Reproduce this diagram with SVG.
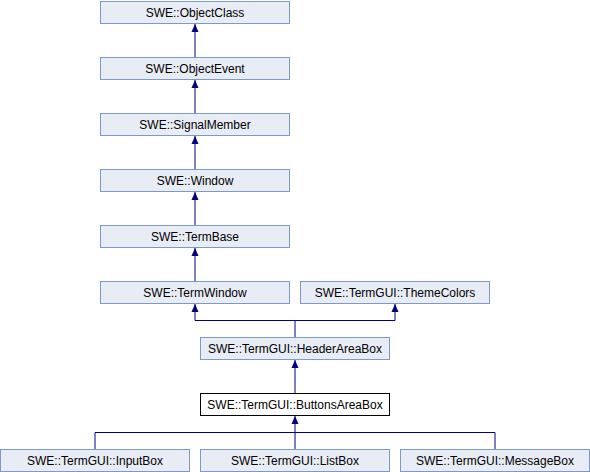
<svg xmlns="http://www.w3.org/2000/svg" width="590" height="472" viewBox="0 0 590 472">
<style>
.n rect{fill:#e8ecf5;stroke:#7d98cc;stroke-width:1}
.n.cur rect{fill:#ffffff;stroke:#000000}
.n text{font-family:"Liberation Sans",Arial,sans-serif;font-size:12px;text-anchor:middle;fill:#000}
.e{fill:none;stroke:#000080;stroke-width:1}
</style>
<defs>
<marker id="ah" viewBox="0 0 8 10" refX="8" refY="5" markerWidth="8" markerHeight="10" markerUnits="userSpaceOnUse" orient="auto">
<path d="M0,1.5 L8,5 L0,8.5 Z" fill="#000080"/>
</marker>
</defs>
<rect width="590" height="472" fill="#ffffff"/>
<g id="edges">
<path class="e" d="M195,57 V24" marker-end="url(#ah)"/>
<path class="e" d="M195,113 V80" marker-end="url(#ah)"/>
<path class="e" d="M195,169 V136" marker-end="url(#ah)"/>
<path class="e" d="M195,225 V192" marker-end="url(#ah)"/>
<path class="e" d="M195,281 V248" marker-end="url(#ah)"/>
<path class="e" d="M295,337 V320.5 H195 V304" marker-end="url(#ah)"/>
<path class="e" d="M295,320.5 H395 V304" marker-end="url(#ah)"/>
<path class="e" d="M295,393 V360" marker-end="url(#ah)"/>
<path class="e" d="M95,449 V432.5 H295" />
<path class="e" d="M495,449 V432.5 H295" />
<path class="e" d="M295,449 V416" marker-end="url(#ah)"/>
</g>
<g id="ObjectClass" class="n"><rect x="100.5" y="1.5" width="189" height="22"/><text x="195" y="17">SWE::ObjectClass</text></g>
<g id="ObjectEvent" class="n"><rect x="100.5" y="57.5" width="189" height="22"/><text x="195" y="73">SWE::ObjectEvent</text></g>
<g id="SignalMember" class="n"><rect x="100.5" y="113.5" width="189" height="22"/><text x="195" y="129">SWE::SignalMember</text></g>
<g id="Window" class="n"><rect x="100.5" y="169.5" width="189" height="22"/><text x="195" y="185">SWE::Window</text></g>
<g id="TermBase" class="n"><rect x="100.5" y="225.5" width="189" height="22"/><text x="195" y="241">SWE::TermBase</text></g>
<g id="TermWindow" class="n"><rect x="100.5" y="281.5" width="189" height="22"/><text x="195" y="297">SWE::TermWindow</text></g>
<g id="ThemeColors" class="n"><rect x="300.5" y="281.5" width="189" height="22"/><text x="395" y="297">SWE::TermGUI::ThemeColors</text></g>
<g id="HeaderAreaBox" class="n"><rect x="200.5" y="337.5" width="189" height="22"/><text x="295" y="353">SWE::TermGUI::HeaderAreaBox</text></g>
<g id="ButtonsAreaBox" class="n cur"><rect x="200.5" y="393.5" width="189" height="22"/><text x="295" y="409">SWE::TermGUI::ButtonsAreaBox</text></g>
<g id="InputBox" class="n"><rect x="0.5" y="449.5" width="189" height="22"/><text x="95" y="465">SWE::TermGUI::InputBox</text></g>
<g id="ListBox" class="n"><rect x="200.5" y="449.5" width="189" height="22"/><text x="295" y="465">SWE::TermGUI::ListBox</text></g>
<g id="MessageBox" class="n"><rect x="400.5" y="449.5" width="189" height="22"/><text x="495" y="465">SWE::TermGUI::MessageBox</text></g>
</svg>
